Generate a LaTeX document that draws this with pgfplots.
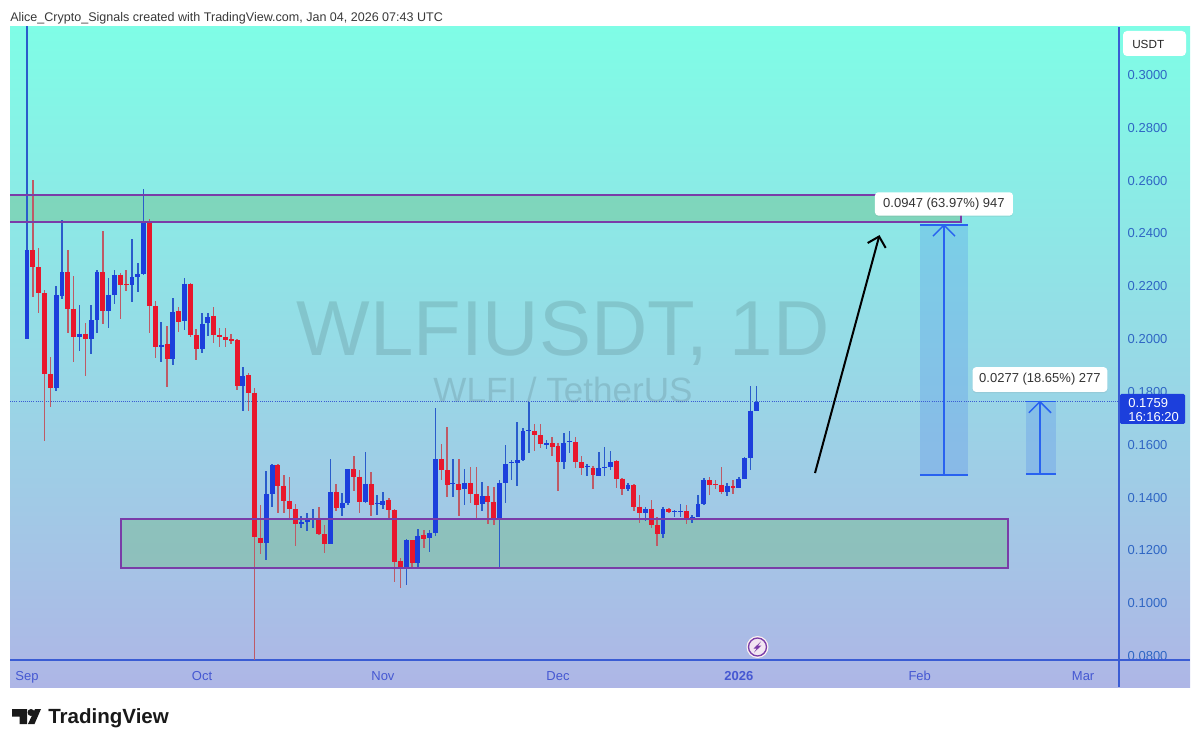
\documentclass[border=0pt]{standalone}
\usepackage{fontspec}
\setmainfont{Liberation Sans}
\usepackage{pgfplots}
\usepackage{pgfplotstable}
\pgfplotsset{compat=1.18}
\usetikzlibrary{arrows.meta,shadows}

\definecolor{tvblue}{HTML}{1C3FDC}
\definecolor{tvred}{HTML}{E8172C}
\definecolor{wickblue}{HTML}{2A5CCB}
\definecolor{wickred}{HTML}{BE5A66}
\definecolor{axblue}{HTML}{3A5CD4}
\definecolor{ticktxt}{HTML}{2F66C4}
\definecolor{datetxt}{HTML}{4558D2}
\definecolor{zonepurple}{HTML}{7A3CA8}
\definecolor{zonefill}{RGB}{108,186,126}
\definecolor{measure}{HTML}{2962F0}

% day (0 = 1 Sep), body top, body bottom, high, low
\pgfplotstableread{
d t b h l
0 .2334 .1996 .318 .1996
5 .2162 .1810 .2198 .1801
6 .2249 .2159 .2447 .2147
9 .2017 .2004 .2124 .1951
11 .2068 .1996 .2125 .1940
12 .2251 .2068 .2258 .2021
14 .2165 .2103 .2229 .2038
15 .2239 .2164 .2258 .2129
18 .2232 .2200 .2375 .2135
19 .2243 .2233 .2286 .2173
20 .2438 .2244 .2563 .2239
23 .1975 .1968 .2060 .1908
25 .2099 .1921 .2151 .1898
27 .2206 .2063 .2226 .2031
30 .2055 .1959 .2094 .1942
31 .2080 .2056 .2096 .2009
37 .1858 .1820 .1889 .1725
41 .1410 .1225 .1498 .1160
42 .1521 .1408 .1523 .1362
47 .1302 .1296 .1326 .1280
48 .1314 .1302 .1339 .1271
49 .1319 .1315 .1352 .1280
52 .1418 .1222 .1541 .1219
54 .1374 .1358 .1415 .1326
55 .1503 .1374 .1505 .1368
58 .1449 .1378 .1567 .1377
60 .1374 .1370 .1406 .1331
61 .1384 .1369 .1418 .1352
65 .1234 .1131 .1238 .1065
67 .1252 .1147 .1277 .1124
69 .1263 .1244 .1273 .1191
70 .1542 .1263 .1734 .1252
73 .1450 .1446 .1542 .1400
75 .1451 .1429 .1503 .1368
78 .1402 .1372 .1456 .1345
81 .1450 .1314 .1463 .1128
82 .1523 .1453 .1595 .1377
83 .1531 .1527 .1538 .1463
84 .1538 .1526 .1684 .1440
85 .1648 .1538 .1661 .1536
86 .1651 .1648 .1759 .1566
89 .1601 .1596 .1614 .1579
92 .1604 .1532 .1639 .1503
93 .1609 .1605 .1648 .1564
96 .1516 .1511 .1522 .1479
98 .1507 .1479 .1567 .1478
99 .1513 .1508 .1589 .1478
100 .1531 .1512 .1574 .1500
103 .1444 .1429 .1453 .1421
106 .1352 .1336 .1362 .1307
109 .1352 .1257 .1362 .1242
111 .1344 .1340 .1349 .1321
112 .1345 .1341 .1370 .1321
114 .1324 .1317 .1330 .1299
115 .1372 .1324 .1406 .1321
116 .1463 .1372 .1471 .1368
120 .1441 .1418 .1450 .1403
122 .1466 .1434 .1473 .1431
123 .1545 .1466 .1548 .1465
124 .1725 .1546 .1819 .1500
125 .1758 .1725 .1819 .1724
}\upcandles

\pgfplotstableread{
d t b h l
1 .2334 .2269 .2599 .2157
2 .2269 .2172 .2342 .2094
3 .2169 .1864 .2182 .1611
4 .1864 .1810 .1930 .1738
7 .2251 .2110 .2334 .2018
8 .2111 .2005 .2235 .1911
10 .2017 .1998 .2056 .1858
13 .2250 .2103 .2405 .2052
16 .2239 .2202 .2248 .2072
17 .2203 .2200 .2258 .2179
21 .2438 .2122 .2450 .2018
22 .2122 .1965 .2142 .1926
24 .1978 .1921 .2047 .1813
26 .2101 .2062 .2116 .2022
28 .2206 .2010 .2210 .2005
29 .2010 .1960 .2036 .1917
32 .2084 .2010 .2119 .1980
33 .2012 .2004 .2037 .1965
34 .2005 .1993 .2039 .1965
35 .1995 .1990 .2015 .1978
36 .1991 .1820 .1995 .1803
38 .1859 .1791 .1869 .1725
39 .1793 .1245 .1810 .078
40 .1244 .1223 .1368 .1182
43 .1519 .1439 .1523 .1339
44 .1441 .1384 .1480 .1339
45 .1383 .1353 .1475 .1318
46 .1353 .1295 .1370 .1213
50 .1320 .1257 .1359 .1254
51 .1257 .1219 .1292 .1187
53 .1417 .1355 .1447 .1346
56 .1503 .1473 .1553 .1422
57 .1475 .1378 .1500 .1336
59 .1447 .1368 .1492 .1326
62 .1388 .1348 .1393 .1311
63 .1349 .1153 .1352 .1075
64 .1156 .1131 .1169 .1052
66 .1235 .1147 .1235 .1134
68 .1254 .1240 .1273 .1204
71 .1542 .1500 .1598 .1463
72 .1500 .1442 .1665 .1397
74 .1446 .1425 .1541 .1328
76 .1451 .1408 .1511 .1374
77 .1410 .1369 .1513 .1314
79 .1403 .1381 .1440 .1296
80 .1381 .1314 .1435 .1292
87 .1649 .1633 .1673 .1574
88 .1633 .1599 .1673 .1583
90 .1603 .1589 .1627 .1555
91 .1593 .1532 .1601 .1422
94 .1605 .1530 .1627 .1509
95 .1530 .1507 .1553 .1482
97 .1509 .1480 .1516 .1429
101 .1535 .1465 .1538 .1434
102 .1468 .1429 .1469 .1406
104 .1442 .1362 .1446 .1346
105 .1362 .1336 .1406 .1299
107 .1352 .1291 .1387 .1280
108 .1292 .1257 .1324 .1213
110 .1352 .1340 .1355 .1336
113 .1345 .1311 .1368 .1296
117 .1463 .1445 .1475 .1406
118 .1446 .1442 .1463 .1427
119 .1445 .1417 .1511 .1408
121 .1440 .1434 .1463 .1410
}\downcandles

\pgfplotsset{
  wick/.style={draw=none, mark=none, forget plot,
    error bars/.cd, y dir=both, y explicit, error mark=none,
    error bar style={#1, line width=1.15pt}},
  body/.style={draw=none, mark=none, forget plot,
    error bars/.cd, y dir=minus, y explicit, error mark=none,
    error bar style={#1, line width=3.7pt}},
}

\begin{document}
\begin{tikzpicture}
% page furniture in image pixels, origin top left
\begin{scope}[shift={(0pt,560.25pt)}, x=0.75pt, y=-0.75pt]
\path[use as bounding box] (0,0) rectangle (1200,747);
\fill[top color={rgb,255:red,127;green,253;blue,230}, bottom color={rgb,255:red,174;green,182;blue,230}] (10,27) rectangle (1190,687);

\node[anchor=west, text=black!78, inner sep=0pt, font=\fontsize{9.4}{11}\selectfont] at (10,18.5)
  {Alice\_Crypto\_Signals created with TradingView.com, Jan 04, 2026 07:43 UTC};
\fill[black!90] (12,709) -- (27,709) -- (27,724) -- (19.5,724) -- (19.5,716.5) -- (12,716.5) -- cycle;
\fill[black!90] (31,712.5) circle (3.5);
\fill[black!90] (35,709) -- (41,709) -- (34.5,724) -- (28,724) -- cycle;
\node[anchor=west, text=black!90, inner sep=0pt, font=\fontsize{15.4}{18}\bfseries] at (48,718) {TradingView};

% watermark
\node[text=black, opacity=0.11, font=\fontsize{58.5}{60}\selectfont] at (563,333) {WLFIUSDT, 1D};
\node[text=black, opacity=0.11, font=\fontsize{26.3}{28}\selectfont] at (563,390) {WLFI / TetherUS};
\end{scope}

\begin{axis}[
  at={(7.5pt,65.25pt)}, anchor=south west,
  scale only axis, width=831.75pt, height=474.75pt,
  xmin=-2.913, xmax=187.15, ymin=0.0781, ymax=0.3178,
  clip mode=individual,
  axis x line*=bottom, axis y line*=right,
  axis line style={axblue, line width=0.8pt, -},
  major tick length=0pt,
  font=\fontsize{9.75}{12}\selectfont,
  xtick={0,30,61,91,122,153,181},
  xticklabels={Sep,Oct,Nov,Dec,\textbf{2026},Feb,Mar},
  xticklabel style={text=datetxt, text height=8pt, text depth=2pt, yshift=-3.5pt},
  ytick={0.08,0.10,0.12,0.14,0.16,0.18,0.20,0.22,0.24,0.26,0.28,0.30},
  yticklabels={0.0800,0.1000,0.1200,0.1400,0.1600,0.1800,0.2000,0.2200,0.2400,0.2600,0.2800,0.3000},
  yticklabel style={text=ticktxt, anchor=west, xshift=3pt, yshift=-0.75pt},
]
% zones behind the candles
\fill[zonefill, opacity=0.4] (axis cs:-2.913,0.2542) rectangle (axis cs:160,0.2440);
\fill[zonefill, opacity=0.4] (axis cs:16.1,0.1315) rectangle (axis cs:168.1,0.1129);
% measured moves
\fill[measure, opacity=0.18] (axis cs:153.04,0.2428) rectangle (axis cs:161.27,0.1482);
\fill[measure, opacity=0.18] (axis cs:171.2,0.1759) rectangle (axis cs:176.3,0.1486);

\addplot[forget plot, densely dotted, line width=0.6pt, draw=axblue] coordinates {(-2.913,0.1759) (187.15,0.1759)};

\addplot[wick=wickblue] table[x=d, y=t, y error plus expr=\thisrow{h}-\thisrow{t}, y error minus expr=\thisrow{t}-\thisrow{l}] {\upcandles};
\addplot[wick=wickred] table[x=d, y=t, y error plus expr=\thisrow{h}-\thisrow{t}, y error minus expr=\thisrow{t}-\thisrow{l}] {\downcandles};
\addplot[body=tvblue] table[x=d, y=t, y error plus expr=0, y error minus expr=\thisrow{t}-\thisrow{b}] {\upcandles};
\addplot[body=tvred] table[x=d, y=t, y error plus expr=0, y error minus expr=\thisrow{t}-\thisrow{b}] {\downcandles};

% zone borders
\draw[zonepurple, line width=1.5pt] (axis cs:-2.913,0.2542) -- (axis cs:160,0.2542) -- (axis cs:160,0.2440) -- (axis cs:-2.913,0.2440);
\draw[zonepurple, line width=1.5pt] (axis cs:16.1,0.1315) rectangle (axis cs:168.1,0.1129);

% measure arrows
\draw[measure, line width=1.1pt] (axis cs:153.04,0.2428) -- (axis cs:161.27,0.2428);
\draw[measure, line width=1.1pt] (axis cs:153.04,0.1482) -- (axis cs:161.27,0.1482);
\draw[measure, line width=1.1pt] (axis cs:157.15,0.1482) -- (axis cs:157.15,0.2428);
\draw[measure, line width=1.1pt] (axis cs:155.27,0.2386) -- (axis cs:157.15,0.2428) -- (axis cs:159.03,0.2386);
\draw[measure, line width=1.1pt] (axis cs:171.2,0.1759) -- (axis cs:176.3,0.1759);
\draw[measure, line width=1.1pt] (axis cs:171.2,0.1486) -- (axis cs:176.3,0.1486);
\draw[measure, line width=1.1pt] (axis cs:173.6,0.1486) -- (axis cs:173.6,0.1759);
\draw[measure, line width=1.1pt] (axis cs:171.7,0.1717) -- (axis cs:173.6,0.1759) -- (axis cs:175.5,0.1717);

% target arrow
\draw[black, line width=1.5pt, -{Straight Barb[length=7pt, width=14pt]}] (axis cs:135.05,0.1489) -- (axis cs:146.1,0.2390);

\node[fill=white, rounded corners=2.5pt, inner sep=0pt, minimum width=103.5pt, minimum height=17.5pt, text=black!80, drop shadow={opacity=0.12, shadow xshift=0pt, shadow yshift=-1pt}] at (axis cs:157.15,0.2508) {0.0947 (63.97\%) 947};
\node[fill=white, rounded corners=2.5pt, inner sep=0pt, minimum width=101pt, minimum height=18.5pt, text=black!80, drop shadow={opacity=0.12, shadow xshift=0pt, shadow yshift=-1pt}] at (axis cs:173.6,0.1843) {0.0277 (18.65\%) 277};
\end{axis}

% right scale decorations, over the axis
\begin{scope}[shift={(0pt,560.25pt)}, x=0.75pt, y=-0.75pt]
\draw[axblue, line width=0.8pt] (1119,660) -- (1119,687);
\draw[axblue, line width=0.8pt] (1119,660) -- (1190,660);
\fill[white, rounded corners=3pt] (1123,31) rectangle (1186,56);
\node[anchor=west, inner sep=0pt, text=black!85, font=\fontsize{8.8}{11}\selectfont] at (1132,44) {USDT};
\fill[tvblue, rounded corners=1pt] (1120,394) rectangle (1185,424);
\node[anchor=west, inner sep=0pt, text=white, font=\fontsize{9.75}{12}\selectfont] at (1128,403.5) {0.1759};
\node[anchor=west, inner sep=0pt, text=white, font=\fontsize{9.75}{12}\selectfont] at (1128,417) {16:16:20};
\fill[white!80!pink] (757.5,647) circle (11);
\filldraw[fill=violet!10!white, draw=zonepurple, line width=1pt] (757.5,647) circle (9);
\fill[zonepurple] (761,641.5) -- (753.5,648.5) -- (756.8,648.5) -- (754,652.5) -- (761.5,645.5) -- (758,645.5) -- cycle;
\end{scope}
\end{tikzpicture}
\end{document}
